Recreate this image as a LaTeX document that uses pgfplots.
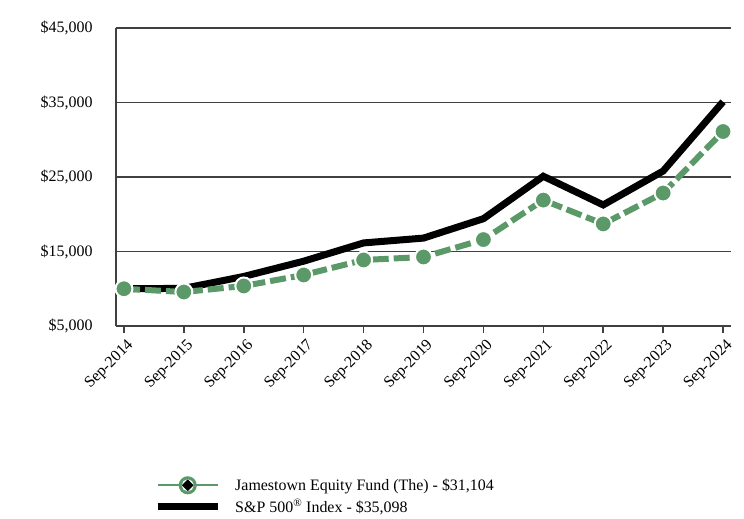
\documentclass[border=0pt]{standalone}
\usepackage{pgfplots}
\pgfplotsset{compat=1.18}
\usepackage{fontspec}
\setmainfont{Liberation Serif}
\definecolor{fundgreen}{RGB}{91,154,104}
\definecolor{axgray}{RGB}{64,64,64}
\begin{document}
\begin{tikzpicture}
\begin{axis}[
  scale only axis, width=615bp, height=298bp,
  at={(0,0)}, anchor=south west,
  xmin=-0.133, xmax=10.133, ymin=5000, ymax=45000,
  scaled y ticks=false,
  axis x line*=bottom, axis y line*=left,
  axis line style={axgray, line width=1.6bp},
  xtick={0,...,10},
  xticklabels={Sep-2014,Sep-2015,Sep-2016,Sep-2017,Sep-2018,Sep-2019,Sep-2020,Sep-2021,Sep-2022,Sep-2023,Sep-2024},
  xticklabel style={rotate=45, anchor=north east, font=\fontsize{16}{18}\selectfont, inner sep=2bp, yshift=-3bp},
  x tick style={axgray, line width=1.6bp},
  tick align=outside, major tick length=7bp,
  ytick={5000,15000,25000,35000,45000},
  yticklabels={{\$5,000},{\$15,000},{\$25,000},{\$35,000},{\$45,000}},
  yticklabel style={font=\fontsize{16}{18}\selectfont, xshift=-13bp},
  y tick style={draw=none},
  ymajorgrids, grid style={axgray, line width=1.6bp},
  /pgf/number format/assume math mode=true,
  reverse legend,
  legend style={draw=none, fill=none, at={(0.057,-0.497)}, anchor=north west, font=\fontsize{16}{18}\selectfont, row sep=3bp, legend cell align=left},
]
\addplot[black, line width=7bp, line join=miter, legend image code/.code={\draw[black, line width=7bp, solid] (0bp,0bp) -- (60bp,0bp);}] coordinates {
(0,10000) (1,10050) (2,11650) (3,13700) (4,16150) (5,16800) (6,19400) (7,25100) (8,21250) (9,25800) (10,35098)};
\addlegendentry{\hspace{12bp}S\&P 500\textsuperscript{®} Index - \$35,098}
\addplot[fundgreen, line width=6bp, dash pattern=on 16bp off 5bp, mark=*, mark size=8.5bp,
  mark options={solid, fill=fundgreen, draw=white, line width=2bp},
  legend image code/.code={\draw[fundgreen, line width=2.2bp, solid] (0bp,0bp) -- (60bp,0bp); \fill[fundgreen, solid] (30bp,0bp) circle (6bp); \fill[white, solid] (30bp,0bp) circle (2.8bp); \fill[black, solid] (30bp,0bp) circle (1.6bp);}] coordinates {
(0,10000) (1,9560) (2,10370) (3,11850) (4,13860) (5,14260) (6,16600) (7,21900) (8,18700) (9,22850) (10,31104)};
\addlegendentry{\hspace{12bp}Jamestown Equity Fund (The) - \$31,104}
\end{axis}
\useasboundingbox (-116bp,-190bp) rectangle (628bp,326bp);
\end{tikzpicture}
\end{document}
